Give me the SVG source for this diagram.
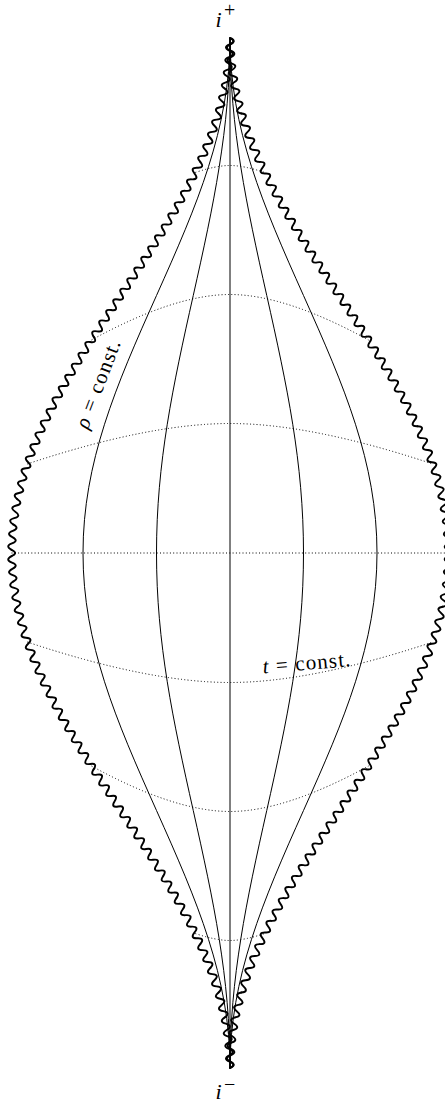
<svg xmlns="http://www.w3.org/2000/svg" width="445" height="1104" viewBox="0 0 445 1104">
<style>
.b{fill:none;stroke:#000;stroke-width:1.9;stroke-linecap:round;stroke-linejoin:round}
.r{fill:none;stroke:#000;stroke-width:1}
.d{fill:none;stroke:#000;stroke-width:1;stroke-dasharray:1 2.3}
.lbl{font-family:"Liberation Serif","Times New Roman",serif;fill:#000}
</style>
<defs>
<path id="w" class="b" d="M0,0 Q3.214,-7.2 6.428,0 Q9.642,7.2 12.855,0 Q16.069,-7.2 19.283,0 Q22.497,7.2 25.711,0"/>
<path id="w2" class="b" d="M0,0 Q3.214,7.2 6.428,0 Q9.642,-7.2 12.855,0 Q16.069,7.2 19.283,0 Q22.497,-7.2 25.711,0"/>
<g id="q">
<path class="b" d="M13.6,553 Q13.6,551.393 10.021,549.822"/>
<use href="#w" transform="translate(10.021,549.822) rotate(-86.29) scale(0.9894,1)"/>
<use href="#w" transform="translate(11.666,524.436) rotate(-80.545) scale(0.9935,1)"/>
<use href="#w" transform="translate(15.862,499.240) rotate(-75.246) scale(0.9995,1)"/>
<use href="#w" transform="translate(22.407,474.389) rotate(-70.567) scale(1.0055,1)"/>
<use href="#w" transform="translate(31.005,450.008) rotate(-66.606) scale(1.0094,1)"/>
<use href="#w" transform="translate(41.305,426.186) rotate(-63.371) scale(1.0102,1)"/>
<use href="#w" transform="translate(52.943,402.966) rotate(-60.817) scale(1.0077,1)"/>
<use href="#w" transform="translate(65.576,380.344) rotate(-58.888) scale(1.0030,1)"/>
<use href="#w" transform="translate(78.903,358.267) rotate(-57.493) scale(0.9974,1)"/>
<use href="#w" transform="translate(92.683,336.640) rotate(-56.605) scale(0.9926,1)"/>
<use href="#w" transform="translate(106.726,315.330) rotate(-56.187) scale(0.9900,1)"/>
<use href="#w" transform="translate(120.886,294.179) rotate(-56.214) scale(0.9902,1)"/>
<use href="#w" transform="translate(135.039,273.017) rotate(-56.689) scale(0.9932,1)"/>
<use href="#w" transform="translate(149.058,251.675) rotate(-57.643) scale(0.9981,1)"/>
<use href="#w" transform="translate(162.792,229.998) rotate(-59.103) scale(1.0037,1)"/>
<use href="#w" transform="translate(176.047,207.858) rotate(-61.103) scale(1.0082,1)"/>
<use href="#w" transform="translate(188.573,185.163) rotate(-63.740) scale(1.0103,1)"/>
<use href="#w" transform="translate(200.063,161.867) rotate(-67.049) scale(1.0091,1)"/>
<use href="#w" transform="translate(210.171,137.972) rotate(-71.221) scale(1.0042,1)"/>
<use href="#w" transform="translate(218.481,113.526) rotate(-75.768) scale(0.9992,1)"/>
<use href="#w" transform="translate(224.796,88.624) rotate(-81.243) scale(0.9928,1)"/>
<use href="#w" transform="translate(228.682,63.396) rotate(-87.029) scale(0.9891,1)"/>
</g>
<g id="q2">
<path class="b" d="M6.4,553 Q6.4,551.393 10.021,549.822"/>
<use href="#w2" transform="translate(10.021,549.822) rotate(-86.29) scale(0.9894,1)"/>
<use href="#w2" transform="translate(11.666,524.436) rotate(-80.545) scale(0.9935,1)"/>
<use href="#w2" transform="translate(15.862,499.240) rotate(-75.246) scale(0.9995,1)"/>
<use href="#w2" transform="translate(22.407,474.389) rotate(-70.567) scale(1.0055,1)"/>
<use href="#w2" transform="translate(31.005,450.008) rotate(-66.606) scale(1.0094,1)"/>
<use href="#w2" transform="translate(41.305,426.186) rotate(-63.371) scale(1.0102,1)"/>
<use href="#w2" transform="translate(52.943,402.966) rotate(-60.817) scale(1.0077,1)"/>
<use href="#w2" transform="translate(65.576,380.344) rotate(-58.888) scale(1.0030,1)"/>
<use href="#w2" transform="translate(78.903,358.267) rotate(-57.493) scale(0.9974,1)"/>
<use href="#w2" transform="translate(92.683,336.640) rotate(-56.605) scale(0.9926,1)"/>
<use href="#w2" transform="translate(106.726,315.330) rotate(-56.187) scale(0.9900,1)"/>
<use href="#w2" transform="translate(120.886,294.179) rotate(-56.214) scale(0.9902,1)"/>
<use href="#w2" transform="translate(135.039,273.017) rotate(-56.689) scale(0.9932,1)"/>
<use href="#w2" transform="translate(149.058,251.675) rotate(-57.643) scale(0.9981,1)"/>
<use href="#w2" transform="translate(162.792,229.998) rotate(-59.103) scale(1.0037,1)"/>
<use href="#w2" transform="translate(176.047,207.858) rotate(-61.103) scale(1.0082,1)"/>
<use href="#w2" transform="translate(188.573,185.163) rotate(-63.740) scale(1.0103,1)"/>
<use href="#w2" transform="translate(200.063,161.867) rotate(-67.049) scale(1.0091,1)"/>
<use href="#w2" transform="translate(210.171,137.972) rotate(-71.221) scale(1.0042,1)"/>
<use href="#w2" transform="translate(218.481,113.526) rotate(-75.768) scale(0.9992,1)"/>
<use href="#w2" transform="translate(224.796,88.624) rotate(-81.243) scale(0.9928,1)"/>
<use href="#w2" transform="translate(228.682,63.396) rotate(-87.029) scale(0.9891,1)"/>
</g>
<g id="half">
<use href="#q"/>
<use href="#q" transform="matrix(1,0,0,-1,0,1106)"/>
</g>
<g id="half2">
<use href="#q2"/>
<use href="#q2" transform="matrix(1,0,0,-1,0,1106)"/>
</g>
</defs>
<rect width="445" height="1104" fill="#fff"/>
<g id="t-lines">
<path class="d" d="M11.5,553 H448.5"/>
<path class="d" d="M27.2,464 Q148.9,423.5 230,423.5 Q311.1,423.5 432.8,464"/>
<path class="d" d="M91.5,340 Q174.6,294.5 230,294.5 Q285.4,294.5 368.5,340"/>
<path class="d" d="M195.2,172.5 Q216.1,165.5 230,165.5 Q243.9,165.5 264.8,172.5"/>
<path class="d" d="M27.2,642 Q148.9,682.5 230,682.5 Q311.1,682.5 432.8,642"/>
<path class="d" d="M91.5,766 Q174.6,811.5 230,811.5 Q285.4,811.5 368.5,766"/>
<path class="d" d="M195.2,933.5 Q216.1,940.5 230,940.5 Q243.9,940.5 264.8,933.5"/>
</g>
<g id="rho-lines">
<path class="r" d="M230,38 V1068"/>
<path class="r" d="M230,38 C230,128.54 197.094,204.96 156.5,295.5 C115.906,386.04 83,462.46 83,553 C83,643.54 115.906,719.96 156.5,810.5 C197.094,901.04 230,977.46 230,1068"/>
<path class="r" d="M230,38 C230,128.54 213.547,204.96 193.25,295.5 C172.953,386.04 156.5,462.46 156.5,553 C156.5,643.54 172.953,719.96 193.25,810.5 C213.547,901.04 230,977.46 230,1068"/>
<path class="r" d="M230,38 C230,128.54 246.453,204.96 266.75,295.5 C287.047,386.04 303.5,462.46 303.5,553 C303.5,643.54 287.047,719.96 266.75,810.5 C246.453,901.04 230,977.46 230,1068"/>
<path class="r" d="M230,38 C230,128.54 262.906,204.96 303.5,295.5 C344.094,386.04 377,462.46 377,553 C377,643.54 344.094,719.96 303.5,810.5 C262.906,901.04 230,977.46 230,1068"/>
</g>
<g id="boundary" transform="matrix(0.993,0,0,1,1.61,0)">
<use href="#half"/>
<use href="#half2" transform="matrix(-1,0,0,1,460,0)"/>
</g>
<g id="label-i-plus" class="lbl">
<text x="215.5" y="27" font-size="22" font-style="italic">i</text>
<text x="224" y="17" font-size="20">+</text>
</g>
<g id="label-i-minus" class="lbl">
<text x="215.5" y="1099" font-size="22" font-style="italic">i</text>
<text x="224" y="1091" font-size="20">−</text>
</g>
<g id="label-rho" class="lbl">
<text transform="translate(104.3,386.5) rotate(-69)" font-size="21" text-anchor="middle" textLength="93" lengthAdjust="spacing"><tspan font-style="italic">ρ</tspan> = const.</text>
</g>
<g id="label-t" class="lbl">
<text transform="translate(307,669.8) rotate(-4.9)" font-size="21" text-anchor="middle" textLength="88" lengthAdjust="spacing"><tspan font-style="italic">t</tspan> = const.</text>
</g>
</svg>
